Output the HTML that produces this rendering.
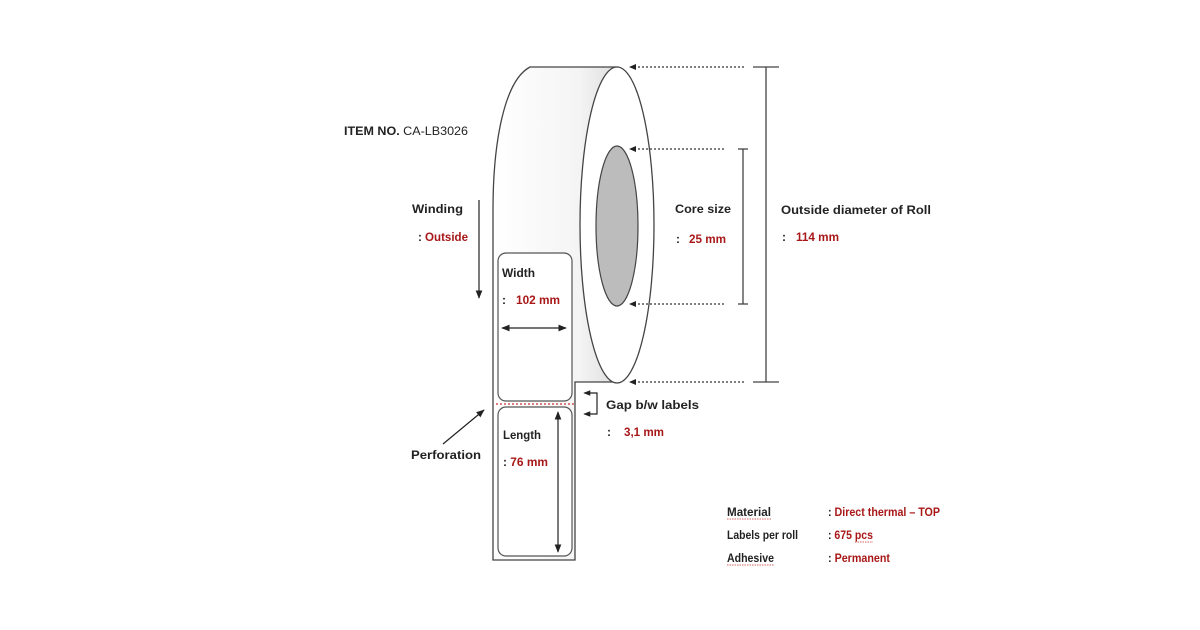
<!DOCTYPE html>
<html><head><meta charset="utf-8"><style>
html,body{margin:0;padding:0;background:#fff;width:1200px;height:630px;overflow:hidden}
svg{display:block}
text{font-family:"Liberation Sans",sans-serif;font-weight:bold;font-size:12px}
.k{fill:#222}.r{fill:#a81818}
</style></head><body>
<svg width="1200" height="630" viewBox="0 0 1200 630" xmlns="http://www.w3.org/2000/svg">
<defs>
<marker id="a" viewBox="0 0 10 10" refX="9" refY="5" markerWidth="7" markerHeight="7" orient="auto-start-reverse"><path d="M0,1 L10,5 L0,9 z" fill="#222"/></marker>
<linearGradient id="g" x1="0" x2="1"><stop offset="0" stop-color="#fff"/><stop offset="0.7" stop-color="#f4f4f4"/><stop offset="1" stop-color="#dedede"/></linearGradient>
</defs>
<path d="M530,67 L617,67 L617,382 L575,382 L575,560 L493,560 L493,210 C493,140 505,80 530,67 Z" fill="url(#g)" stroke="#444" stroke-width="1.3"/>
<ellipse cx="617" cy="225" rx="37" ry="158" fill="#fff" stroke="#444" stroke-width="1.3"/>
<ellipse cx="617" cy="226" rx="21" ry="80" fill="#bcbcbc" stroke="#444" stroke-width="1.2"/>
<rect x="498" y="253" width="74" height="148" rx="8" fill="#fff" stroke="#555" stroke-width="1.2"/>
<rect x="498" y="407" width="74" height="149" rx="8" fill="#fff" stroke="#555" stroke-width="1.2"/>
<line x1="496" y1="404" x2="574" y2="404" stroke="#c33" stroke-width="1.2" stroke-dasharray="2,2"/>
<line x1="502" y1="328" x2="566" y2="328" stroke="#222" stroke-width="1.2" marker-start="url(#a)" marker-end="url(#a)"/>
<line x1="558" y1="412" x2="558" y2="552" stroke="#222" stroke-width="1.2" marker-start="url(#a)" marker-end="url(#a)"/>
<line x1="479" y1="200" x2="479" y2="298" stroke="#222" stroke-width="1.2" marker-end="url(#a)"/>
<line x1="443" y1="444" x2="484" y2="410" stroke="#222" stroke-width="1.2" marker-end="url(#a)"/>
<polyline points="587,393 597,393 597,414 587,414" fill="none" stroke="#222" stroke-width="1.2"/>
<line x1="590" y1="393" x2="584" y2="393" stroke="#222" marker-end="url(#a)"/>
<line x1="590" y1="414" x2="584" y2="414" stroke="#222" marker-end="url(#a)"/>
<g stroke="#333" stroke-width="1.3" stroke-dasharray="2,2">
<line x1="634" y1="67" x2="746" y2="67"/>
<line x1="634" y1="149" x2="724" y2="149"/>
<line x1="634" y1="304" x2="724" y2="304"/>
<line x1="634" y1="382" x2="746" y2="382"/>
</g>
<g fill="#222"><path d="M629,67 l7,-3 v6z"/><path d="M629,149 l7,-3 v6z"/><path d="M629,304 l7,-3 v6z"/><path d="M629,382 l7,-3 v6z"/></g>
<g stroke="#444" stroke-width="1.3" fill="none">
<line x1="766" y1="67" x2="766" y2="382"/><line x1="753" y1="67" x2="779" y2="67"/><line x1="753" y1="382" x2="779" y2="382"/>
<line x1="743" y1="149" x2="743" y2="304"/><line x1="738" y1="149" x2="748" y2="149"/><line x1="738" y1="304" x2="748" y2="304"/>
</g>
<text x="344" y="135" class="k" textLength="124" lengthAdjust="spacingAndGlyphs">ITEM NO. <tspan font-weight="normal">CA-LB3026</tspan></text>
<text x="412" y="213" class="k" textLength="51" lengthAdjust="spacingAndGlyphs">Winding</text>
<text x="418" y="241" class="k" textLength="50" lengthAdjust="spacingAndGlyphs">: <tspan class="r">Outside</tspan></text>
<text x="411" y="459" class="k" textLength="70" lengthAdjust="spacingAndGlyphs">Perforation</text>
<text x="502" y="277" class="k" font-size="11" textLength="33" lengthAdjust="spacingAndGlyphs">Width</text>
<text x="502" y="304" class="k">:</text><text x="516" y="304" class="r" textLength="44" lengthAdjust="spacingAndGlyphs">102 mm</text>
<text x="503" y="439" class="k" font-size="11" textLength="38" lengthAdjust="spacingAndGlyphs">Length</text>
<text x="503" y="466" class="k" textLength="45" lengthAdjust="spacingAndGlyphs">: <tspan class="r">76 mm</tspan></text>
<text x="606" y="409" class="k" font-size="13" textLength="93" lengthAdjust="spacingAndGlyphs">Gap b/w labels</text>
<text x="607" y="436" class="k">:</text><text x="624" y="436" class="r" textLength="40" lengthAdjust="spacingAndGlyphs">3,1 mm</text>
<text x="675" y="213" class="k" font-size="13" textLength="56" lengthAdjust="spacingAndGlyphs">Core size</text>
<text x="676" y="243" class="k">:</text><text x="689" y="243" class="r" textLength="37" lengthAdjust="spacingAndGlyphs">25 mm</text>
<text x="781" y="214" class="k" font-size="13" textLength="150" lengthAdjust="spacingAndGlyphs">Outside diameter of Roll</text>
<text x="782" y="241" class="k">:</text><text x="796" y="241" class="r" textLength="43" lengthAdjust="spacingAndGlyphs">114 mm</text>
<g font-size="11">
<text x="727" y="516" class="k" textLength="44" lengthAdjust="spacingAndGlyphs">Material</text>
<text x="727" y="539" class="k" textLength="71" lengthAdjust="spacingAndGlyphs">Labels per roll</text>
<text x="727" y="562" class="k" textLength="47" lengthAdjust="spacingAndGlyphs">Adhesive</text>
<text x="828" y="516" class="k" textLength="112" lengthAdjust="spacingAndGlyphs">: <tspan class="r">Direct thermal – TOP</tspan></text>
<text x="828" y="539" class="k" textLength="45" lengthAdjust="spacingAndGlyphs">: <tspan class="r">675 pcs</tspan></text>
<text x="828" y="562" class="k" textLength="62" lengthAdjust="spacingAndGlyphs">: <tspan class="r">Permanent</tspan></text>
</g>
<g stroke="#c33" stroke-width="0.8" fill="none" stroke-dasharray="1.5,1">
<line x1="727" y1="519" x2="771" y2="519"/><line x1="727" y1="565" x2="774" y2="565"/><line x1="855" y1="542" x2="873" y2="542"/>
</g>
</svg>
</body></html>
